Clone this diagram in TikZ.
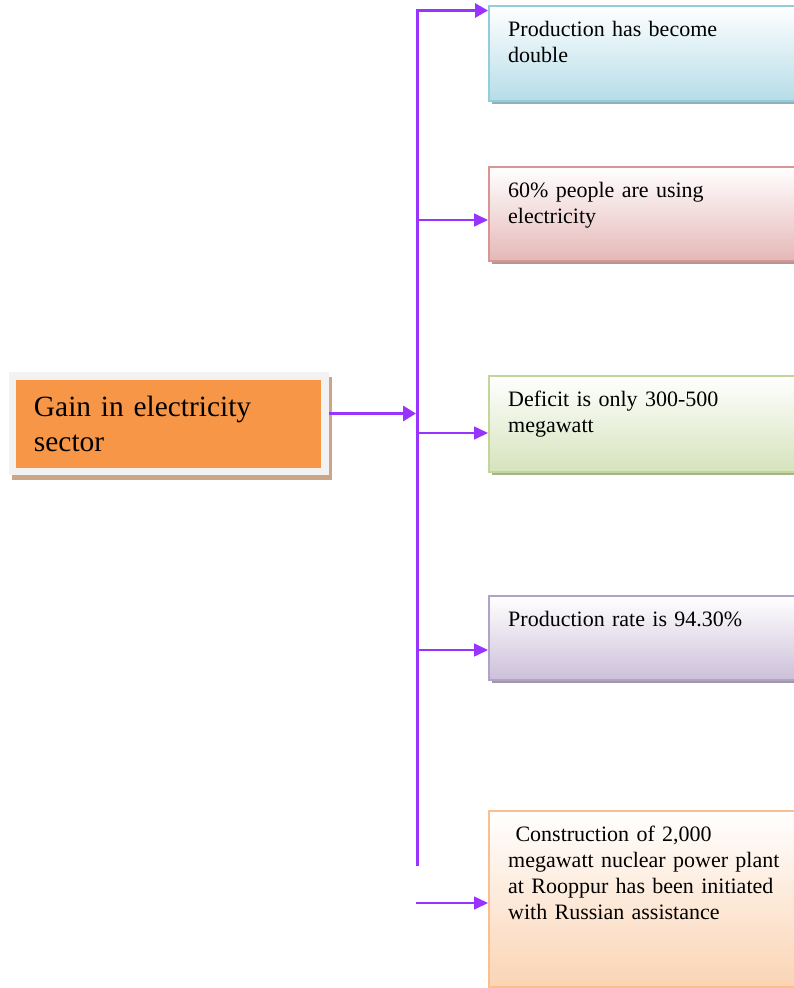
\documentclass[tikz,border=0pt]{standalone}
\usepackage{fontspec}
\setmainfont{Liberation Serif}
\usetikzlibrary{arrows.meta,shadows}

\definecolor{linkpurple}{HTML}{9933FF}
\definecolor{gainorange}{HTML}{F79646}
\definecolor{gainframe}{HTML}{F2F2F2}
\definecolor{gainshadow}{HTML}{CCA586}

\begin{document}
\begin{tikzpicture}[
  x=1pt, y=-1pt,
  item/.style={draw, line width=1.5pt, anchor=north west, minimum width=330pt,
    inner sep=0pt, top color=white},
  itemtext/.style={anchor=base west, text width=290pt, align=left, inner sep=0pt,
    font=\fontsize{22}{26}\selectfont},
  spine/.style={linkpurple, line width=3pt},
  branch/.style={linkpurple, line width=1.6pt, -{Triangle[length=14pt, width=13pt]}},
  frame/.style={fill=gainframe, minimum width=320pt, minimum height=103pt, inner sep=0pt,
    drop shadow={shadow xshift=3pt, shadow yshift=-5pt, opacity=1, fill=gainshadow}},
  gainbox/.style={fill=gainorange, text width=269pt, inner xsep=18pt, inner ysep=0pt,
    minimum height=88pt, align=left, font=\fontsize{29.4}{35}\selectfont}
]
\useasboundingbox (0,0) rectangle (794,988);

% left box
\node[frame] (gainframe) at (168.5,423.5) {};
\node[gainbox] (gain) at (gainframe.center) {Gain in electricity\\sector};

% right boxes
\node[item, minimum height=95pt, draw={rgb,255:red,146;green,205;blue,220},
  bottom color={rgb,255:red,182;green,221;blue,232},
  drop shadow={shadow xshift=3pt, shadow yshift=-3pt, opacity=1, fill={rgb,255:red,143;green,176;blue,184}}]
  (b1) at (488,5) {};
\node[item, minimum height=94pt, draw={rgb,255:red,217;green,149;blue,148},
  bottom color={rgb,255:red,229;green,184;blue,183},
  drop shadow={shadow xshift=3pt, shadow yshift=-3pt, opacity=1, fill={rgb,255:red,179;green,150;blue,150}}]
  (b2) at (488,166) {};
\node[item, minimum height=96pt, draw={rgb,255:red,194;green,214;blue,155},
  bottom color={rgb,255:red,214;green,227;blue,188},
  drop shadow={shadow xshift=3pt, shadow yshift=-3pt, opacity=1, fill={rgb,255:red,165;green,179;blue,143}}]
  (b3) at (488,375) {};
\node[item, minimum height=84pt, draw={rgb,255:red,178;green,162;blue,199},
  bottom color={rgb,255:red,204;green,192;blue,217},
  drop shadow={shadow xshift=3pt, shadow yshift=-3pt, opacity=1, fill={rgb,255:red,159;green,152;blue,168}}]
  (b4) at (488,595) {};
\node[item, minimum height=176pt, draw={rgb,255:red,250;green,191;blue,143},
  bottom color={rgb,255:red,251;green,212;blue,180},
  drop shadow={shadow xshift=3pt, shadow yshift=-3pt, opacity=1, fill={rgb,255:red,217;green,181;blue,154}}]
  (b5) at (488,810) {};

\node[itemtext] (t1) at ([xshift=20pt, yshift=-31pt]b1.north west) {Production has become\\double};
\node[itemtext] (t2) at ([xshift=20pt, yshift=-31pt]b2.north west) {60\% people are using\\electricity};
\node[itemtext] (t3) at ([xshift=20pt, yshift=-31pt]b3.north west) {Deficit is only 300-500\\megawatt};
\node[itemtext] (t4) at ([xshift=20pt, yshift=-31pt]b4.north west) {Production rate is 94.30\%};
\node[itemtext] (t5) at ([xshift=20pt, yshift=-31pt]b5.north west)
  {\ Construction of 2,000\\megawatt nuclear power plant\\at Rooppur has been initiated\\with Russian assistance};

% connectors
\coordinate (hub) at (416,413.5);
\coordinate (spinetop) at (417,10.5);
\coordinate (spinebot) at (417,866);
\coordinate (p2) at (417,220);
\coordinate (p3) at (417,433);
\coordinate (p4) at (417,650);
\coordinate (p5) at (416,903);

\draw[spine, -{Triangle[length=13pt, width=15pt]}] ([yshift=10pt]gainframe.east) -- (hub);
\draw[spine, -{Triangle[length=13pt, width=14pt]}] (spinebot) -- (spinetop) -- (spinetop -| b1.west);
\draw[branch] (p2) -- (p2 -| b2.west);
\draw[branch] (p3) -- (p3 -| b3.west);
\draw[branch] (p4) -- (p4 -| b4.west);
\draw[branch] (p5) -- (p5 -| b5.west);
\end{tikzpicture}
\end{document}
